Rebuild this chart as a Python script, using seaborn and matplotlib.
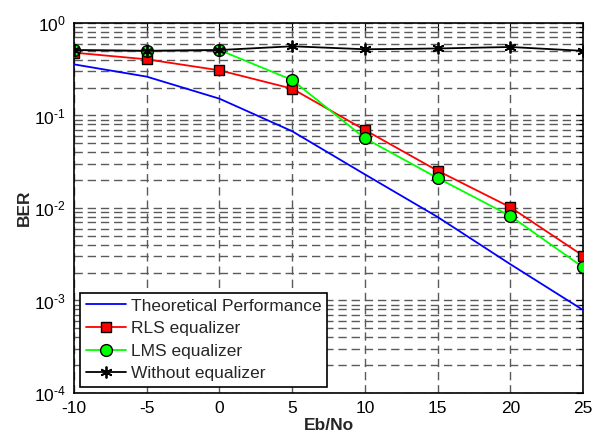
import matplotlib
matplotlib.use("Agg")
import matplotlib.pyplot as plt
import numpy as np
import pandas as pd
import seaborn as sns
from matplotlib.ticker import LogLocator, FixedLocator, FuncFormatter

# Eb/No axis (dB)
ebno = [-10, -5, 0, 5, 10, 15, 20, 25]

# Bit error rates for each case
ber_theory = [0.357, 0.263, 0.152, 0.0676, 0.0231, 0.0080, 0.00247, 0.00079]
ber_rls = [0.478, 0.405, 0.308, 0.195, 0.0697, 0.0253, 0.0102, 0.00305]
ber_lms = [0.51, 0.50, 0.51, 0.242, 0.0567, 0.0211, 0.0082, 0.00229]
ber_none = [0.51, 0.50, 0.51, 0.56, 0.52, 0.53, 0.55, 0.50]

labels = ["Theoretical Performance", "RLS equalizer", "LMS equalizer", "Without equalizer"]

sns.set_style("white")
plt.rcParams["font.family"] = ["Liberation Sans", "DejaVu Sans"]
plt.rcParams["mathtext.fontset"] = "custom"
plt.rcParams["mathtext.rm"] = "Liberation Sans"
plt.rcParams["mathtext.it"] = "Liberation Sans:italic"
plt.rcParams["mathtext.bf"] = "Liberation Sans:bold"
plt.rcParams["axes.unicode_minus"] = False

fs = 12.5

fig = plt.figure(figsize=(6.03, 4.37), dpi=100)
ax = fig.add_axes([0.1227, 0.1007, 0.8441, 0.8467])

df = pd.DataFrame({"ebno": ebno, "theory": ber_theory, "rls": ber_rls,
                   "lms": ber_lms, "none": ber_none})

lw = 1.3
sns.lineplot(data=df, x="ebno", y="theory", ax=ax, color="#0000ff", lw=lw,
             label=labels[0], zorder=3)
sns.lineplot(data=df, x="ebno", y="rls", ax=ax, color="#ff0000", lw=lw,
             marker="s", markersize=7.5, markerfacecolor="#ff0000",
             markeredgecolor="black", markeredgewidth=1.0,
             label=labels[1], zorder=4)
sns.lineplot(data=df, x="ebno", y="lms", ax=ax, color="#00ff00", lw=lw,
             marker="o", markersize=8.5, markerfacecolor="#00ff00",
             markeredgecolor="black", markeredgewidth=1.0,
             label=labels[2], zorder=5)
sns.lineplot(data=df, x="ebno", y="none", ax=ax, color="black", lw=lw,
             marker=(6, 2, 0), markersize=8.5, markeredgecolor="black",
             markeredgewidth=1.3, label=labels[3], zorder=6)

ax.set_yscale("log")
ax.set_xlim(-10, 25)
ax.set_ylim(1e-4, 1)
ax.xaxis.set_major_locator(FixedLocator(ebno))
ax.yaxis.set_major_locator(LogLocator(base=10, numticks=10))
ax.yaxis.set_minor_locator(LogLocator(base=10, subs=np.arange(2, 10), numticks=20))


def decade_label(v, pos):
    e = int(round(np.log10(v)))
    exp = r"\text{-}%d" % (-e) if e < 0 else "%d" % e
    return r"$10^{%s}$" % exp


ax.yaxis.set_major_formatter(FuncFormatter(decade_label))

dash = (0, (6, 3.5))
ax.grid(True, which="major", axis="both", linestyle=dash, color="#5a5a5a", lw=1.0)
ax.grid(True, which="minor", axis="y", linestyle=dash, color="#5a5a5a", lw=1.0)

for s in ax.spines.values():
    s.set_color("black")
    s.set_linewidth(1.2)

ax.tick_params(which="both", direction="in", top=True, right=True,
               labelsize=fs, colors="black")
ax.tick_params(which="major", length=5, width=0.8, pad=6)
ax.tick_params(which="minor", length=3, width=0.8)
ax.tick_params(axis="x", which="minor", bottom=False, top=False)

ax.set_xlabel("Eb/No", fontsize=fs, fontweight="bold", labelpad=1)
ax.set_ylabel("BER", fontsize=fs, fontweight="bold", labelpad=1)

leg = ax.legend(loc="lower left", fontsize=fs, frameon=True, fancybox=False,
                framealpha=1, edgecolor="black", handlelength=2.3,
                handletextpad=0.3, borderpad=0.32, labelspacing=0.43,
                borderaxespad=0.35)
leg.get_frame().set_linewidth(1.2)

fig.savefig("out.png", dpi=100)
